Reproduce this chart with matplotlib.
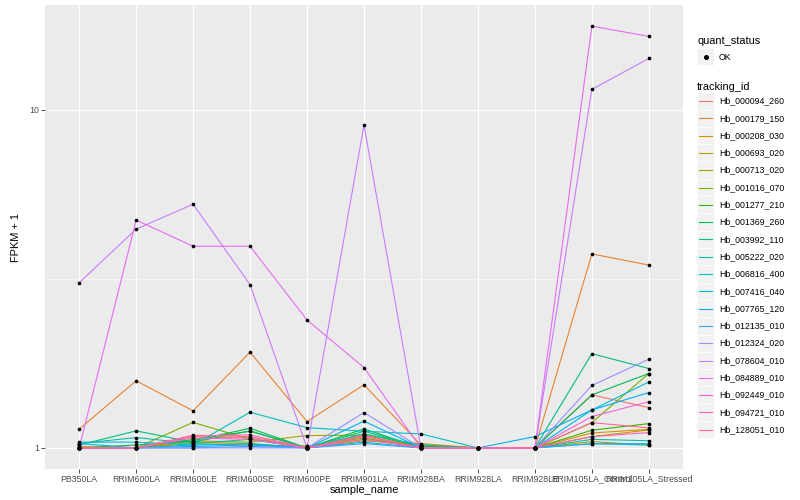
import numpy as np
import matplotlib
matplotlib.use("Agg")
import matplotlib.pyplot as plt
from matplotlib.lines import Line2D
from matplotlib.patches import Rectangle

plt.rcParams['font.family'] = ['Liberation Sans', 'DejaVu Sans']

samples = ["PB350LA", "RRIM600LA", "RRIM600LE", "RRIM600SE", "RRIM600PE", "RRIM901LA",
           "RRIM928BA", "RRIM928LA", "RRIM928LE", "RRIM105LA_Control", "RRIM105LA_Stressed"]

tracking_ids = ["Hb_000094_260", "Hb_000179_150", "Hb_000208_030", "Hb_000693_020",
                "Hb_000713_020", "Hb_001016_070", "Hb_001277_210", "Hb_001369_260",
                "Hb_003992_110", "Hb_005222_020", "Hb_006816_400", "Hb_007416_040",
                "Hb_007765_120", "Hb_012135_010", "Hb_012324_020", "Hb_078604_010",
                "Hb_084889_010", "Hb_092449_010", "Hb_094721_010", "Hb_128051_010"]

colors = ["#F8766D", "#EA8331", "#D89000", "#C09B00", "#A3A500", "#7CAE00", "#39B600",
          "#00BB4E", "#00BF7D", "#00C1A3", "#00BFC4", "#00BAE0", "#00B0F6", "#35A2FF",
          "#9590FF", "#C77CFF", "#E76BF3", "#FA62DB", "#FF62BC", "#FF6C91"]

# FPKM + 1, one row per tracking_id, columns follow samples
fpkm1 = [
    [1.00, 1.00, 1.08, 1.07, 1.00, 1.08, 1.01, 1, 1, 1.435, 1.316],
    [1.136, 1.58, 1.287, 1.92, 1.197, 1.537, 1.02, 1, 1, 3.75, 3.475],
    [1.00, 1.00, 1.03, 1.02, 1.01, 1.06, 1.03, 1, 1, 1.107, 1.135],
    [1.01, 1.00, 1.04, 1.03, 1.00, 1.05, 1.02, 1, 1, 1.08, 1.13],
    [1.00, 1.00, 1.05, 1.04, 1.088, 1.09, 1.00, 1, 1, 1.044, 1.02],
    [1.00, 1.00, 1.19, 1.06, 1.01, 1.07, 1.00, 1, 1, 1.188, 1.66],
    [1.00, 1.00, 1.06, 1.12, 1.00, 1.10, 1.01, 1, 1, 1.128, 1.18],
    [1.00, 1.02, 1.05, 1.143, 1.00, 1.138, 1.00, 1, 1, 1.435, 1.66],
    [1.02, 1.123, 1.04, 1.123, 1.00, 1.12, 1.01, 1, 1, 1.90, 1.717],
    [1.03, 1.073, 1.03, 1.06, 1.00, 1.10, 1.02, 1, 1, 1.06, 1.05],
    [1.03, 1.00, 1.02, 1.275, 1.148, 1.12, 1.10, 1, 1, 1.03, 1.02],
    [1.04, 1.04, 1.02, 1.03, 1.00, 1.04, 1.00, 1, 1, 1.295, 1.567],
    [1.00, 1.00, 1.01, 1.02, 1.00, 1.20, 1.00, 1, 1.08, 1.295, 1.458],
    [1.00, 1.00, 1.00, 1.01, 1.00, 1.03, 1.00, 1, 1, 1.028, 1.03],
    [1.00, 1.00, 1.00, 1.00, 1.00, 1.272, 1.00, 1, 1, 1.53, 1.83],
    [3.08, 4.44, 5.26, 3.04, 1.00, 9.03, 1.00, 1, 1, 11.5, 14.2],
    [1.00, 4.72, 3.95, 3.95, 2.39, 1.728, 1.00, 1, 1, 17.7, 16.5],
    [1.00, 1.00, 1.07, 1.06, 1.00, 1.06, 1.00, 1, 1, 1.238, 1.37],
    [1.00, 1.00, 1.085, 1.093, 1.00, 1.085, 1.00, 1, 1, 1.08, 1.11],
    [1.00, 1.00, 1.09, 1.08, 1.00, 1.09, 1.00, 1, 1, 1.188, 1.146],
]

fig = plt.figure(figsize=(8, 5), dpi=100)
ax = fig.add_axes([45 / 800, 31 / 500, 638 / 800, 464 / 500])
ax.set_facecolor("#EBEBEB")

x = np.arange(len(samples))
for vals, col in zip(fpkm1, colors):
    ax.plot(x, vals, color=col, lw=0.8, zorder=2)
for vals in fpkm1:
    ax.scatter(x, vals, color="black", s=7, zorder=3, linewidths=0)

ax.set_yscale("log")
ax.set_xlim(-0.6, len(samples) - 0.4)
ax.margins(y=0.05)
ax.set_yticks([1, 10])
ax.set_yticklabels(["1", "10"])
ax.set_yticks([10 ** 0.5], minor=True)
ax.yaxis.set_minor_formatter(plt.NullFormatter())
ax.set_xticks(x)
ax.set_xticklabels(samples)

ax.grid(True, which="major", color="white", lw=0.8, zorder=0)
ax.grid(True, which="minor", axis="y", color="white", lw=0.4, zorder=0)
ax.set_axisbelow(True)
for s in ax.spines.values():
    s.set_visible(False)
ax.tick_params(axis="both", which="major", length=3, color="#333333", width=0.6,
               labelsize=6.3, labelcolor="#4D4D4D", pad=1)
ax.tick_params(axis="y", which="minor", length=0)
ax.set_xlabel("sample_name", fontsize=7.9, labelpad=1)
ax.set_ylabel("FPKM + 1", fontsize=7.9, labelpad=6)

# legends, drawn by hand in ggplot style
def px(xp, yp):
    return xp / 800, 1 - yp / 500

fig.text(*px(697, 41), "quant_status", fontsize=7.9, va="center")
fig.add_artist(Rectangle(px(697, 65), 17 / 800, 17 / 500, transform=fig.transFigure,
                         facecolor="#F2F2F2", edgecolor="white", lw=0.5))
fig.add_artist(Line2D([705.5 / 800], [1 - 56.5 / 500], marker="o", color="black",
                      markersize=2.6, transform=fig.transFigure))
fig.text(*px(719, 57), "OK", fontsize=6.3, va="center")

fig.text(*px(697, 87), "tracking_id", fontsize=7.9, va="center")
y0 = 101
step = 17.3
for i, (tid, col) in enumerate(zip(tracking_ids, colors)):
    yc = y0 + i * step
    fig.add_artist(Rectangle(px(697, yc + 8.6), 17 / 800, 17.3 / 500, transform=fig.transFigure,
                             facecolor="#F2F2F2", edgecolor="white", lw=0.5))
    fig.add_artist(Line2D([699 / 800, 712 / 800], [1 - yc / 500, 1 - yc / 500],
                          color=col, lw=0.8, transform=fig.transFigure))
    fig.text(*px(719, yc), tid, fontsize=6.3, va="center")

fig.savefig("out.png", dpi=100)
